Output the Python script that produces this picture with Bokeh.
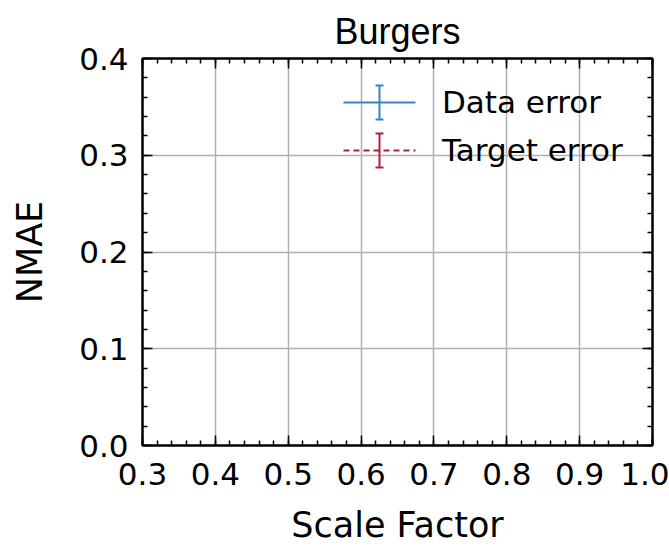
from bokeh.plotting import figure
from bokeh.models import (FixedTicker, LinearAxis, Legend, LegendItem, NumeralTickFormatter,
                          CustomJSTickFormatter, Range1d, ColumnDataSource, Whisker)
from bokeh.embed import file_html
from bokeh.resources import INLINE

# ---------------- data ----------------
title_text = "Burgers"
x_label = "Scale Factor"
y_label = "NMAE"
series_names = ["Data error", "Target error"]

# No measurements fall inside the visible window of the reference chart.
scale_factor = []
data_error_mean = []
data_error_std = []
target_error_mean = []
target_error_std = []

x_ticks = [0.3, 0.4, 0.5, 0.6, 0.7, 0.8, 0.9, 1.0]
y_ticks = [0.0, 0.1, 0.2, 0.3, 0.4]
x_limits = [0.3, 1.0]
y_limits = [0.0, 0.4]

# ---------------- styles ----------------
BLUE = "#3a82c4"
RED = "#b0203c"
GRID = "#b0b0b0"
TICK_FONT = "DejaVu Sans"

x_minor = [round(x_limits[0] + 0.02 * i, 2) for i in range(int(round((x_limits[1] - x_limits[0]) / 0.02)) + 1)]
y_minor = [round(y_limits[0] + 0.02 * i, 2) for i in range(int(round((y_limits[1] - y_limits[0]) / 0.02)) + 1)]

p = figure(width=669, height=549,
           x_range=Range1d(*x_limits), y_range=Range1d(*y_limits),
           output_backend="svg", toolbar_location=None, title=title_text,
           min_border_left=142, min_border_right=17, min_border_top=58, min_border_bottom=104)
p.background_fill_color = "white"
p.border_fill_color = "white"
p.outline_line_color = "black"
p.outline_line_width = 2

p.title.text_font = "Liberation Sans"
p.title.text_font_size = "36px"
p.title.text_font_style = "normal"
p.title.align = "center"
p.title.text_color = "black"
p.title.standoff = 14


def style_axis(ax, ticks, minor, show_labels):
    ax.ticker = FixedTicker(ticks=ticks, minor_ticks=minor)
    ax.axis_line_color = "black"
    ax.axis_line_width = 2
    ax.major_tick_line_color = "black"
    ax.major_tick_line_width = 1.5
    ax.minor_tick_line_color = "black"
    ax.minor_tick_line_width = 1.5
    ax.major_tick_in = 10
    ax.major_tick_out = 0
    ax.minor_tick_in = 5
    ax.minor_tick_out = 0
    if show_labels:
        ax.formatter = NumeralTickFormatter(format="0.0")
        ax.major_label_text_font = TICK_FONT
        ax.major_label_text_font_size = "31px"
        ax.major_label_text_color = "black"
        ax.axis_label_text_font = TICK_FONT
        ax.axis_label_text_font_size = "35px"
        ax.axis_label_text_font_style = "normal"
        ax.axis_label_text_color = "black"
    else:
        ax.formatter = CustomJSTickFormatter(code="return ''")
        ax.major_label_text_font_size = "0px"
        ax.major_label_standoff = 0


style_axis(p.xaxis[0], x_ticks, x_minor, True)
style_axis(p.yaxis[0], y_ticks, y_minor, True)
p.xaxis[0].axis_label = x_label
p.yaxis[0].axis_label = y_label
p.xaxis[0].major_label_standoff = 17
p.xaxis[0].axis_label_standoff = 17
p.yaxis[0].major_label_standoff = 14
p.yaxis[0].axis_label_standoff = 26

top_axis = LinearAxis()
style_axis(top_axis, x_ticks, x_minor, False)
p.add_layout(top_axis, "above")
right_axis = LinearAxis()
style_axis(right_axis, y_ticks, y_minor, False)
p.add_layout(right_axis, "right")

p.xgrid.ticker = FixedTicker(ticks=x_ticks)
p.ygrid.ticker = FixedTicker(ticks=y_ticks)
for g in (p.xgrid[0], p.ygrid[0]):
    g.grid_line_color = GRID
    g.grid_line_width = 1.5

# ---------------- series ----------------
src_data = ColumnDataSource(dict(
    x=scale_factor, y=data_error_mean,
    lo=[m - s for m, s in zip(data_error_mean, data_error_std)],
    hi=[m + s for m, s in zip(data_error_mean, data_error_std)]))
src_target = ColumnDataSource(dict(
    x=scale_factor, y=target_error_mean,
    lo=[m - s for m, s in zip(target_error_mean, target_error_std)],
    hi=[m + s for m, s in zip(target_error_mean, target_error_std)]))

r_data = p.line("x", "y", source=src_data, line_color=BLUE, line_width=2)
r_target = p.line("x", "y", source=src_target, line_color=RED, line_width=2, line_dash="6 4")
p.add_layout(Whisker(source=src_data, base="x", lower="lo", upper="hi", line_color=BLUE, line_width=2))
p.add_layout(Whisker(source=src_target, base="x", lower="lo", upper="hi", line_color=RED, line_width=2))

# ---------------- legend ----------------
legend = Legend(items=[LegendItem(label=series_names[0], renderers=[r_data]),
                       LegendItem(label=series_names[1], renderers=[r_target])],
                location=(201, 275), orientation="vertical",
                glyph_width=72, glyph_height=40, label_height=40, spacing=8,
                padding=0, margin=0, label_standoff=27,
                border_line_alpha=0, background_fill_alpha=0,
                label_text_font=TICK_FONT, label_text_font_size="31px", label_text_color="black")
p.add_layout(legend)

# error-bar handles drawn inside the legend (positions as axes fractions)
fx_handle = 0.4647
half_line = 0.0706
row_fy = [0.8863, 0.7623]
half_bar = 0.0439
half_cap = 0.0078
handle_dash = ["solid", "6 4"]


def ax2x(f):
    return x_limits[0] + f * (x_limits[1] - x_limits[0])


def ax2y(f):
    return y_limits[0] + f * (y_limits[1] - y_limits[0])


for fy, col, dash in zip(row_fy, [BLUE, RED], handle_dash):
    p.segment([ax2x(fx_handle - half_line)], [ax2y(fy)], [ax2x(fx_handle + half_line)], [ax2y(fy)],
              line_color=col, line_width=2, line_dash=dash)
    xs0 = [ax2x(fx_handle), ax2x(fx_handle - half_cap), ax2x(fx_handle - half_cap)]
    xs1 = [ax2x(fx_handle), ax2x(fx_handle + half_cap), ax2x(fx_handle + half_cap)]
    ys0 = [ax2y(fy - half_bar), ax2y(fy - half_bar), ax2y(fy + half_bar)]
    ys1 = [ax2y(fy + half_bar), ax2y(fy - half_bar), ax2y(fy + half_bar)]
    p.segment(xs0, ys0, xs1, ys1, line_color=col, line_width=2)

open("out.html", "w").write(file_html(p, INLINE))
